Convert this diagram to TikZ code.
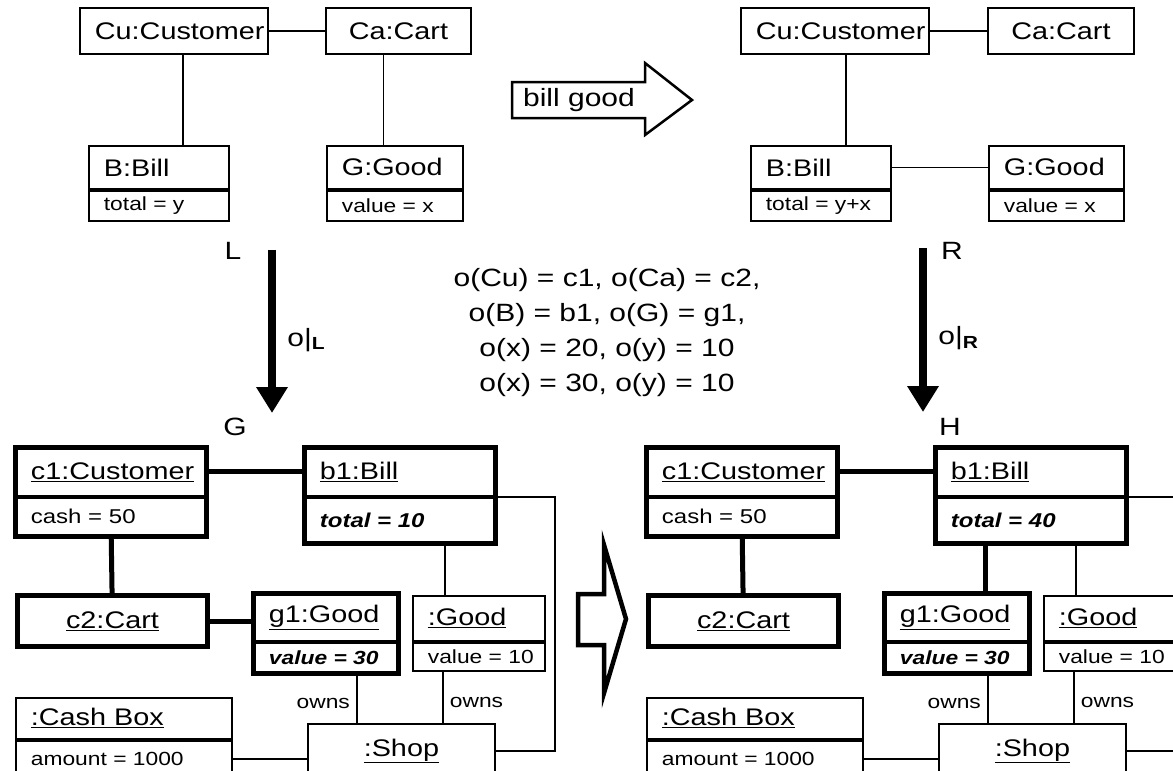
\documentclass[tikz,border=0pt]{standalone}
\usepackage{fontspec}
\setmainfont{Liberation Sans}[FakeStretch=1.2]
\usetikzlibrary{positioning, arrows.meta}

\begin{document}
\begin{tikzpicture}[
            x=1pt,
            y=-1pt,
            part/.style={
                draw,
                rectangle,
                line width=1.8pt,
                inner xsep=15pt,
                inner ysep=0pt,
                align=left,
                font=\fontsize{24}{28}\selectfont
            },
            attr/.style={
                part,
                font=\fontsize{20}{24}\selectfont
            },
            smallattr/.style={
                part,
                font=\fontsize{19}{22}\selectfont
            },
            heavy/.style={line width=5pt},
            link/.style={line width=1.8pt},
            hlink/.style={line width=5pt},
            morph/.style={
                line width=8pt,
                -{Triangle[width=30pt, length=26pt]}
            },
            lbl/.style={font=\fontsize{25}{30}\selectfont},
            owns/.style={font=\fontsize{19}{22}\selectfont, inner sep=6pt}
        ]

            \useasboundingbox (0,0) rectangle (1173,771);
            \clip (0,0) rectangle (1173,771);

            \node[part, anchor=north west, text width=158pt, align=center, minimum height=46pt] (Lcu) at (79,7) {Cu:Customer};
            \node[part, anchor=north west, text width=115pt, align=center, minimum height=46pt] (Lca) at (325,7) {Ca:Cart};
            \node[part, anchor=north west, text width=110pt, minimum height=43pt] (Lb) at (88,145) {B:Bill};
            \node[smallattr, text width=110pt, minimum height=30pt, below=0pt of Lb] (Lba) {\mbox{total = y}};
            \node[part, anchor=north west, text width=106pt, minimum height=43pt] (Lg) at (326,145) {G:Good};
            \node[smallattr, text width=106pt, minimum height=30pt, below=0pt of Lg] (Lga) {\mbox{value = x}};

            \draw[link] (Lcu) -- (Lca);
            \draw[link] ([xshift=9pt]Lcu.south) -- ([xshift=9pt]Lcu.south |- Lb.north);
            \draw[link] ([xshift=-15pt]Lca.south) -- ([xshift=-15pt]Lca.south |- Lg.north);

            \node[part, anchor=north west, text width=158pt, align=center, minimum height=46pt] (Rcu) at (740,7) {Cu:Customer};
            \node[part, anchor=north west, text width=116pt, align=center, minimum height=46pt] (Rca) at (987,7) {Ca:Cart};
            \node[part, anchor=north west, text width=110pt, minimum height=43pt] (Rb) at (750,145) {B:Bill};
            \node[smallattr, text width=110pt, minimum height=30pt, below=0pt of Rb] (Rba) {\mbox{total = y+x}};
            \node[part, anchor=north west, text width=105pt, minimum height=43pt] (Rg) at (988,145) {G:Good};
            \node[smallattr, text width=105pt, minimum height=30pt, below=0pt of Rg] (Rga) {\mbox{value = x}};

            \draw[link] (Rcu) -- (Rca);
            \draw[link] ([xshift=11pt]Rcu.south) -- ([xshift=11pt]Rcu.south |- Rb.north);
            \draw[link] (Rb) -- (Rg);

            \node[lbl] (rulename) at (579,100) {bill good};
            \draw[line width=2.5pt] (512,82) -- (645,82) -- (645,63) -- (692,100)
                -- (645,135) -- (645,118) -- (512,118) -- cycle;

            \node[lbl] (Lname) at (233,251) {L};
            \node[lbl] (Gname) at (235,427) {G};
            \node[lbl] (Rname) at (952,251) {R};
            \node[lbl] (Hname) at (950,427) {H};

            \coordinate (lTop) at (272,250);
            \coordinate (lTip) at (272,413);
            \coordinate (rTop) at (923,248);
            \coordinate (rTip) at (923,412);

            \draw[morph] (lTop) -- (lTip)
                node[lbl, pos=0.55, right=8pt] {o|\textsubscript{\textbf{L}}};
            \draw[morph] (rTop) -- (rTip)
                node[lbl, pos=0.55, right=8pt] {o|\textsubscript{\textbf{R}}};

            \node[lbl, align=center, font=\fontsize{25}{35}\selectfont] (match) at (607,333)
                {o(Cu) = c1, o(Ca) = c2,\\ o(B) = b1, o(G) = g1,\\ o(x) = 20, o(y) = 10\\ o(x) = 30, o(y) = 10};

            \node[part, anchor=north west, text width=160pt, minimum height=48pt] (Gc1) at (15,447) {\underline{c1:Customer}};
            \node[attr, text width=160pt, minimum height=38pt, below=0pt of Gc1] (Gc1a) {\mbox{cash = 50}};
            \node[part, anchor=north west, text width=160pt, minimum height=48pt] (Gb1) at (304,447) {\underline{b1:Bill}};
            \node[attr, text width=160pt, minimum height=45pt, below=0pt of Gb1] (Gb1a) {\mbox{\textbf{\textit{total = 10}}}};
            \node[part, line width=5pt, anchor=north west, text width=160pt, align=center, minimum height=51pt] (Gc2) at (15,593) {\underline{c2:Cart}};
            \node[part, anchor=north west, text width=114pt, minimum height=47pt] (Gg1) at (253,593) {\underline{g1:Good}};
            \node[smallattr, text width=114pt, minimum height=30pt, below=0pt of Gg1] (Gg1a) {\mbox{\textbf{\textit{value = 30}}}};
            \node[part, anchor=north west, text width=102pt, minimum height=45pt] (Ggood) at (412,595) {\underline{:Good}};
            \node[smallattr, text width=102pt, minimum height=28pt, below=0pt of Ggood] (Ggooda) {\mbox{value = 10}};
            \node[part, anchor=north west, text width=186pt, minimum height=41pt] (Gcash) at (15,697) {\underline{:Cash Box}};
            \node[smallattr, text width=186pt, minimum height=36pt, below=0pt of Gcash] (Gcasha) {\mbox{amount = 1000}};
            \node[part, anchor=north west, text width=157pt, align=center, minimum height=54pt] (Gshop) at (307,723) {\underline{:Shop}};

            \draw[heavy] (Gc1.north west) rectangle (Gc1a.south east);
            \draw[heavy] (Gb1.north west) rectangle (Gb1a.south east);
            \draw[heavy] (Gg1.north west) rectangle (Gg1a.south east);

            \draw[hlink] (Gc1) -- (Gb1);
            \draw[hlink] (Gc1a) -- (Gc2);
            \draw[hlink] (Gc2.east) -- (Gc2.east -| Gg1.west);
            \draw[link] ([xshift=-34pt]Ggood.north) -- ([xshift=-34pt]Ggood.north |- Gb1a.south);
            \draw[link] (Gb1.south east) -- ++(59,0) |- (Gshop.east);
            \draw[link] ([xshift=-42pt]Gg1a.south east) -- ([xshift=-42pt]Gg1a.south east |- Gshop.north)
                node[owns, pos=0.6, left] {owns};
            \draw[link] ([xshift=31pt]Ggooda.south west) -- ([xshift=31pt]Ggooda.south west |- Gshop.north)
                node[owns, pos=0.6, right] {owns};
            \draw[link] (Gcasha.east) -- (Gcasha.east -| Gshop.west);

            \draw[line width=4.5pt] (578,594) -- (604,594) -- (604,545) -- (626,619)
                -- (604,693) -- (604,645) -- (578,645) -- cycle;

            \node[part, anchor=north west, text width=160pt, minimum height=48pt] (Hc1) at (646,447) {\underline{c1:Customer}};
            \node[attr, text width=160pt, minimum height=38pt, below=0pt of Hc1] (Hc1a) {\mbox{cash = 50}};
            \node[part, anchor=north west, text width=160pt, minimum height=48pt] (Hb1) at (935,447) {\underline{b1:Bill}};
            \node[attr, text width=160pt, minimum height=45pt, below=0pt of Hb1] (Hb1a) {\mbox{\textbf{\textit{total = 40}}}};
            \node[part, line width=5pt, anchor=north west, text width=160pt, align=center, minimum height=51pt] (Hc2) at (646,593) {\underline{c2:Cart}};
            \node[part, anchor=north west, text width=114pt, minimum height=47pt] (Hg1) at (884,593) {\underline{g1:Good}};
            \node[smallattr, text width=114pt, minimum height=30pt, below=0pt of Hg1] (Hg1a) {\mbox{\textbf{\textit{value = 30}}}};
            \node[part, anchor=north west, text width=102pt, minimum height=45pt] (Hgood) at (1043,595) {\underline{:Good}};
            \node[smallattr, text width=102pt, minimum height=28pt, below=0pt of Hgood] (Hgooda) {\mbox{value = 10}};
            \node[part, anchor=north west, text width=186pt, minimum height=41pt] (Hcash) at (646,697) {\underline{:Cash Box}};
            \node[smallattr, text width=186pt, minimum height=36pt, below=0pt of Hcash] (Hcasha) {\mbox{amount = 1000}};
            \node[part, anchor=north west, text width=157pt, align=center, minimum height=54pt] (Hshop) at (938,723) {\underline{:Shop}};

            \draw[heavy] (Hc1.north west) rectangle (Hc1a.south east);
            \draw[heavy] (Hb1.north west) rectangle (Hb1a.south east);
            \draw[heavy] (Hg1.north west) rectangle (Hg1a.south east);

            \draw[hlink] (Hc1) -- (Hb1);
            \draw[hlink] (Hc1a) -- (Hc2);
            \draw[hlink] ([xshift=29pt]Hg1.north) -- ([xshift=29pt]Hg1.north |- Hb1a.south);
            \draw[link] ([xshift=-34pt]Hgood.north) -- ([xshift=-34pt]Hgood.north |- Hb1a.south);
            \draw[link] (Hb1.south east) -- ++(80,0);
            \draw[link] (Hshop.east) -- ++(80,0);
            \draw[link] ([xshift=-42pt]Hg1a.south east) -- ([xshift=-42pt]Hg1a.south east |- Hshop.north)
                node[owns, pos=0.6, left] {owns};
            \draw[link] ([xshift=31pt]Hgooda.south west) -- ([xshift=31pt]Hgooda.south west |- Hshop.north)
                node[owns, pos=0.6, right] {owns};
            \draw[link] (Hcasha.east) -- (Hcasha.east -| Hshop.west);

        \end{tikzpicture}
\end{document}
